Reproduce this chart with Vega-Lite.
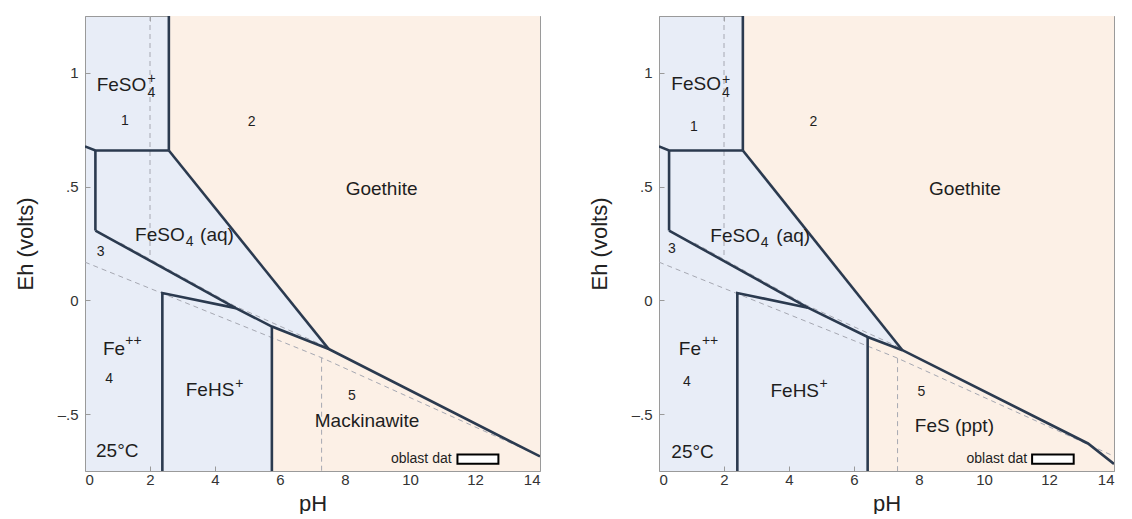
{
  "$schema": "https://vega.github.io/schema/vega-lite/v6.json",
  "padding": {"left": 14, "top": 15, "right": 0, "bottom": 0},
  "background": "white",
  "config": {
    "view": {"fill": "#e8edf7", "stroke": null},
    "font": "Liberation Sans",
    "axis": {"grid": false, "domainColor": "#9a9a9a", "domainWidth": 1, "tickColor": "#9a9a9a", "tickSize": -5, "tickWidth": 1,
      "labelFontSize": 15, "labelColor": "#333333", "labelFont": "Liberation Sans",
      "titleFontSize": 22, "titleFontWeight": "normal", "titleColor": "#222222", "titleFont": "Liberation Sans", "zindex": 1}
  },
  "datasets": {
    "fills": [
      {"panel": "L", "region": "Goethite", "pH": 2.58, "lo": 0.659, "hi": 1.25},
      {"panel": "L", "region": "Goethite", "pH": 7.5, "lo": -0.214, "hi": 1.25},
      {"panel": "L", "region": "Goethite", "pH": 14, "lo": -0.686, "hi": 1.25},
      {"panel": "L", "region": "Mackinawite", "pH": 5.75, "lo": -0.75, "hi": -0.115},
      {"panel": "L", "region": "Mackinawite", "pH": 7.5, "lo": -0.75, "hi": -0.214},
      {"panel": "L", "region": "Mackinawite", "pH": 14, "lo": -0.75, "hi": -0.686},
      {"panel": "R", "region": "Goethite", "pH": 2.58, "lo": 0.659, "hi": 1.25},
      {"panel": "R", "region": "Goethite", "pH": 7.49, "lo": -0.219, "hi": 1.25},
      {"panel": "R", "region": "Goethite", "pH": 13.2, "lo": -0.629, "hi": 1.25},
      {"panel": "R", "region": "Goethite", "pH": 14, "lo": -0.719, "hi": 1.25},
      {"panel": "R", "region": "FeS", "pH": 6.42, "lo": -0.75, "hi": -0.161},
      {"panel": "R", "region": "FeS", "pH": 7.49, "lo": -0.75, "hi": -0.219},
      {"panel": "R", "region": "FeS", "pH": 13.2, "lo": -0.75, "hi": -0.629},
      {"panel": "R", "region": "FeS", "pH": 14, "lo": -0.75, "hi": -0.719}
    ],
    "lines": [
      {"panel": "L", "seg": 1, "o": 1, "pH": 2.58, "Eh": 1.25},
      {"panel": "L", "seg": 1, "o": 2, "pH": 2.58, "Eh": 0.659},
      {"panel": "L", "seg": 2, "o": 1, "pH": 0, "Eh": 0.677},
      {"panel": "L", "seg": 2, "o": 2, "pH": 0.32, "Eh": 0.659},
      {"panel": "L", "seg": 2, "o": 3, "pH": 2.58, "Eh": 0.659},
      {"panel": "L", "seg": 3, "o": 1, "pH": 0.32, "Eh": 0.659},
      {"panel": "L", "seg": 3, "o": 2, "pH": 0.32, "Eh": 0.307},
      {"panel": "L", "seg": 4, "o": 1, "pH": 0.32, "Eh": 0.307},
      {"panel": "L", "seg": 4, "o": 2, "pH": 4.64, "Eh": -0.034},
      {"panel": "L", "seg": 4, "o": 3, "pH": 5.75, "Eh": -0.115},
      {"panel": "L", "seg": 4, "o": 4, "pH": 7.5, "Eh": -0.214},
      {"panel": "L", "seg": 4, "o": 5, "pH": 14, "Eh": -0.686},
      {"panel": "L", "seg": 5, "o": 1, "pH": 2.58, "Eh": 0.659},
      {"panel": "L", "seg": 5, "o": 2, "pH": 7.5, "Eh": -0.214},
      {"panel": "L", "seg": 6, "o": 1, "pH": 2.38, "Eh": -0.75},
      {"panel": "L", "seg": 6, "o": 2, "pH": 2.38, "Eh": 0.032},
      {"panel": "L", "seg": 6, "o": 3, "pH": 4.64, "Eh": -0.034},
      {"panel": "L", "seg": 7, "o": 1, "pH": 5.75, "Eh": -0.115},
      {"panel": "L", "seg": 7, "o": 2, "pH": 5.75, "Eh": -0.75},
      {"panel": "R", "seg": 1, "o": 1, "pH": 2.58, "Eh": 1.25},
      {"panel": "R", "seg": 1, "o": 2, "pH": 2.58, "Eh": 0.659},
      {"panel": "R", "seg": 2, "o": 1, "pH": 0, "Eh": 0.677},
      {"panel": "R", "seg": 2, "o": 2, "pH": 0.31, "Eh": 0.659},
      {"panel": "R", "seg": 2, "o": 3, "pH": 2.58, "Eh": 0.659},
      {"panel": "R", "seg": 3, "o": 1, "pH": 0.31, "Eh": 0.659},
      {"panel": "R", "seg": 3, "o": 2, "pH": 0.31, "Eh": 0.307},
      {"panel": "R", "seg": 4, "o": 1, "pH": 0.31, "Eh": 0.307},
      {"panel": "R", "seg": 4, "o": 2, "pH": 4.58, "Eh": -0.032},
      {"panel": "R", "seg": 4, "o": 3, "pH": 6.42, "Eh": -0.161},
      {"panel": "R", "seg": 4, "o": 4, "pH": 7.49, "Eh": -0.219},
      {"panel": "R", "seg": 4, "o": 5, "pH": 13.2, "Eh": -0.629},
      {"panel": "R", "seg": 4, "o": 6, "pH": 14, "Eh": -0.719},
      {"panel": "R", "seg": 5, "o": 1, "pH": 2.58, "Eh": 0.659},
      {"panel": "R", "seg": 5, "o": 2, "pH": 7.49, "Eh": -0.219},
      {"panel": "R", "seg": 6, "o": 1, "pH": 2.41, "Eh": -0.75},
      {"panel": "R", "seg": 6, "o": 2, "pH": 2.41, "Eh": 0.032},
      {"panel": "R", "seg": 6, "o": 3, "pH": 4.58, "Eh": -0.032},
      {"panel": "R", "seg": 7, "o": 1, "pH": 6.42, "Eh": -0.161},
      {"panel": "R", "seg": 7, "o": 2, "pH": 6.42, "Eh": -0.75}
    ],
    "dashes": [
      {"panel": "L", "seg": 1, "o": 1, "pH": 2.0, "Eh": 1.25},
      {"panel": "L", "seg": 1, "o": 2, "pH": 2.0, "Eh": 0.184},
      {"panel": "L", "seg": 2, "o": 1, "pH": 1.1, "Eh": 0.252},
      {"panel": "L", "seg": 2, "o": 2, "pH": 4.6, "Eh": -0.024},
      {"panel": "L", "seg": 2, "o": 3, "pH": 7.45, "Eh": -0.206},
      {"panel": "L", "seg": 3, "o": 1, "pH": 0, "Eh": 0.168},
      {"panel": "L", "seg": 3, "o": 2, "pH": 7.28, "Eh": -0.252},
      {"panel": "L", "seg": 3, "o": 3, "pH": 14, "Eh": -0.685},
      {"panel": "L", "seg": 4, "o": 1, "pH": 7.28, "Eh": -0.252},
      {"panel": "L", "seg": 4, "o": 2, "pH": 7.28, "Eh": -0.75},
      {"panel": "R", "seg": 1, "o": 1, "pH": 2.0, "Eh": 1.25},
      {"panel": "R", "seg": 1, "o": 2, "pH": 2.0, "Eh": 0.184},
      {"panel": "R", "seg": 2, "o": 1, "pH": 1.1, "Eh": 0.252},
      {"panel": "R", "seg": 2, "o": 2, "pH": 4.55, "Eh": -0.022},
      {"panel": "R", "seg": 2, "o": 3, "pH": 7.45, "Eh": -0.21},
      {"panel": "R", "seg": 3, "o": 1, "pH": 0, "Eh": 0.168},
      {"panel": "R", "seg": 3, "o": 2, "pH": 7.34, "Eh": -0.254},
      {"panel": "R", "seg": 3, "o": 3, "pH": 14, "Eh": -0.685},
      {"panel": "R", "seg": 4, "o": 1, "pH": 7.34, "Eh": -0.254},
      {"panel": "R", "seg": 4, "o": 2, "pH": 7.34, "Eh": -0.75}
    ],
    "boxes": [
      {"panel": "L", "x1": 11.46, "x2": 12.72, "y1": -0.718, "y2": -0.677},
      {"panel": "R", "x1": 11.48, "x2": 12.76, "y1": -0.718, "y2": -0.677}
    ],
    "labels": [
      {"panel": "L", "kind": "big", "pH": 0.36, "Eh": 0.921, "text": "FeSO"},
      {"panel": "L", "kind": "big", "pH": 8.02, "Eh": 0.461, "text": "Goethite"},
      {"panel": "L", "kind": "big", "pH": 1.54, "Eh": 0.259, "text": "FeSO"},
      {"panel": "L", "kind": "big", "pH": 3.54, "Eh": 0.259, "text": "(aq)"},
      {"panel": "L", "kind": "big", "pH": 0.55, "Eh": -0.241, "text": "Fe"},
      {"panel": "L", "kind": "big", "pH": 3.1, "Eh": -0.42, "text": "FeHS"},
      {"panel": "L", "kind": "big", "pH": 0.34, "Eh": -0.687, "text": "25°C"},
      {"panel": "L", "kind": "big", "pH": 7.07, "Eh": -0.556, "text": "Mackinawite"},
      {"panel": "L", "kind": "sub", "pH": 1.92, "Eh": 0.892, "text": "4"},
      {"panel": "L", "kind": "sub", "pH": 1.92, "Eh": 0.955, "text": "+"},
      {"panel": "L", "kind": "sub", "pH": 3.1, "Eh": 0.237, "text": "4"},
      {"panel": "L", "kind": "sub", "pH": 1.24, "Eh": -0.197, "text": "++"},
      {"panel": "L", "kind": "sub", "pH": 4.62, "Eh": -0.383, "text": "+"},
      {"panel": "L", "kind": "num", "pH": 1.23, "Eh": 0.789, "text": "1"},
      {"panel": "L", "kind": "num", "pH": 5.13, "Eh": 0.786, "text": "2"},
      {"panel": "L", "kind": "num", "pH": 0.48, "Eh": 0.212, "text": "3"},
      {"panel": "L", "kind": "num", "pH": 0.74, "Eh": -0.346, "text": "4"},
      {"panel": "L", "kind": "num", "pH": 8.21, "Eh": -0.421, "text": "5"},
      {"panel": "L", "kind": "note", "pH": 11.28, "Eh": -0.716, "text": "oblast dat"},
      {"panel": "R", "kind": "big", "pH": 0.38, "Eh": 0.924, "text": "FeSO"},
      {"panel": "R", "kind": "big", "pH": 8.31, "Eh": 0.461, "text": "Goethite"},
      {"panel": "R", "kind": "big", "pH": 1.58, "Eh": 0.256, "text": "FeSO"},
      {"panel": "R", "kind": "big", "pH": 3.61, "Eh": 0.256, "text": "(aq)"},
      {"panel": "R", "kind": "big", "pH": 0.61, "Eh": -0.241, "text": "Fe"},
      {"panel": "R", "kind": "big", "pH": 3.43, "Eh": -0.424, "text": "FeHS"},
      {"panel": "R", "kind": "big", "pH": 0.38, "Eh": -0.694, "text": "25°C"},
      {"panel": "R", "kind": "big", "pH": 7.87, "Eh": -0.578, "text": "FeS (ppt)"},
      {"panel": "R", "kind": "sub", "pH": 1.94, "Eh": 0.892, "text": "4"},
      {"panel": "R", "kind": "sub", "pH": 1.94, "Eh": 0.952, "text": "+"},
      {"panel": "R", "kind": "sub", "pH": 3.13, "Eh": 0.235, "text": "4"},
      {"panel": "R", "kind": "sub", "pH": 1.32, "Eh": -0.197, "text": "++"},
      {"panel": "R", "kind": "sub", "pH": 4.94, "Eh": -0.386, "text": "+"},
      {"panel": "R", "kind": "num", "pH": 1.07, "Eh": 0.764, "text": "1"},
      {"panel": "R", "kind": "num", "pH": 4.75, "Eh": 0.782, "text": "2"},
      {"panel": "R", "kind": "num", "pH": 0.4, "Eh": 0.227, "text": "3"},
      {"panel": "R", "kind": "num", "pH": 0.86, "Eh": -0.358, "text": "4"},
      {"panel": "R", "kind": "num", "pH": 8.07, "Eh": -0.402, "text": "5"},
      {"panel": "R", "kind": "note", "pH": 11.33, "Eh": -0.716, "text": "oblast dat"}
    ]
  },
  "bounds": "flush",
  "spacing": 119,
  "hconcat": [
    {
      "width": 455, "height": 455,
      "layer": [
        {"data": {"name": "fills"}, "transform": [{"filter": "datum.panel == 'L'"}],
         "mark": {"type": "area", "color": "#fcf0e6", "opacity": 1, "clip": true},
         "encoding": {
           "x": {"field": "pH", "type": "quantitative", "scale": {"domain": [0, 14], "nice": false, "zero": false},
                 "axis": {"orient": "bottom", "values": [0, 2, 4, 6, 8, 10, 12, 14], "title": "pH", "labelPadding": 6, "titlePadding": 6}},
           "y": {"field": "lo", "type": "quantitative", "scale": {"domain": [-0.75, 1.25], "nice": false, "zero": false},
                 "axis": {"orient": "left", "values": [-0.5, 0, 0.5, 1], "labelExpr": "datum.value == 0 ? '0' : datum.value == 1 ? '1' : datum.value > 0 ? '.5' : '–.5'", "title": "Eh (volts)", "labelPadding": 12, "titlePadding": 20}},
           "y2": {"field": "hi"},
           "detail": {"field": "region"}
         }},
        {"data": {"name": "dashes"}, "transform": [{"filter": "datum.panel == 'L'"}],
         "mark": {"type": "line", "color": "#a6a8b2", "strokeWidth": 1, "strokeDash": [5, 4], "clip": true},
         "encoding": {
           "x": {"field": "pH", "type": "quantitative", "scale": {"domain": [0, 14], "nice": false, "zero": false},
                 "axis": {"orient": "top", "values": [0, 2, 4, 6, 8, 10, 12, 14], "labels": false, "title": null}},
           "y": {"field": "Eh", "type": "quantitative", "scale": {"domain": [-0.75, 1.25], "nice": false, "zero": false},
                 "axis": {"orient": "right", "values": [-0.5, 0, 0.5, 1], "labels": false, "title": null}},
           "detail": {"field": "seg"},
           "order": {"field": "o"}
         }},
        {"data": {"name": "lines"}, "transform": [{"filter": "datum.panel == 'L'"}],
         "mark": {"type": "line", "color": "#2b3a4f", "strokeWidth": 2.6, "clip": true, "strokeJoin": "miter"},
         "encoding": {
           "x": {"field": "pH", "type": "quantitative", "scale": {"domain": [0, 14], "nice": false, "zero": false}, "axis": null},
           "y": {"field": "Eh", "type": "quantitative", "scale": {"domain": [-0.75, 1.25], "nice": false, "zero": false}, "axis": null},
           "detail": {"field": "seg"},
           "order": {"field": "o"}
         }},
        {"data": {"name": "boxes"}, "transform": [{"filter": "datum.panel == 'L'"}],
         "mark": {"type": "rect", "fill": "white", "stroke": "black", "strokeWidth": 2},
         "encoding": {
           "x": {"field": "x1", "type": "quantitative", "axis": null}, "x2": {"field": "x2"},
           "y": {"field": "y1", "type": "quantitative", "axis": null}, "y2": {"field": "y2"}
         }},
        {"data": {"name": "labels"}, "transform": [{"filter": "datum.panel == 'L' && datum.kind == 'big'"}],
         "mark": {"type": "text", "align": "left", "baseline": "alphabetic", "fontSize": 19, "font": "Liberation Sans", "color": "#1e1e1e"},
         "encoding": {"x": {"field": "pH", "type": "quantitative", "axis": null}, "y": {"field": "Eh", "type": "quantitative", "axis": null}, "text": {"field": "text"}}},
        {"data": {"name": "labels"}, "transform": [{"filter": "datum.panel == 'L' && datum.kind == 'sub'"}],
         "mark": {"type": "text", "align": "left", "baseline": "alphabetic", "fontSize": 14, "font": "Liberation Sans", "color": "#1e1e1e"},
         "encoding": {"x": {"field": "pH", "type": "quantitative", "axis": null}, "y": {"field": "Eh", "type": "quantitative", "axis": null}, "text": {"field": "text"}}},
        {"data": {"name": "labels"}, "transform": [{"filter": "datum.panel == 'L' && datum.kind == 'num'"}],
         "mark": {"type": "text", "align": "center", "baseline": "middle", "fontSize": 14, "font": "Liberation Sans", "color": "#1e1e1e"},
         "encoding": {"x": {"field": "pH", "type": "quantitative", "axis": null}, "y": {"field": "Eh", "type": "quantitative", "axis": null}, "text": {"field": "text"}}},
        {"data": {"name": "labels"}, "transform": [{"filter": "datum.panel == 'L' && datum.kind == 'note'"}],
         "mark": {"type": "text", "align": "right", "baseline": "alphabetic", "fontSize": 14, "font": "Liberation Sans", "color": "#1e1e1e"},
         "encoding": {"x": {"field": "pH", "type": "quantitative", "axis": null}, "y": {"field": "Eh", "type": "quantitative", "axis": null}, "text": {"field": "text"}}}
      ]
    },
    {
      "width": 455, "height": 455,
      "layer": [
        {"data": {"name": "fills"}, "transform": [{"filter": "datum.panel == 'R'"}],
         "mark": {"type": "area", "color": "#fcf0e6", "opacity": 1, "clip": true},
         "encoding": {
           "x": {"field": "pH", "type": "quantitative", "scale": {"domain": [0, 14], "nice": false, "zero": false},
                 "axis": {"orient": "bottom", "values": [0, 2, 4, 6, 8, 10, 12, 14], "title": "pH", "labelPadding": 6, "titlePadding": 6}},
           "y": {"field": "lo", "type": "quantitative", "scale": {"domain": [-0.75, 1.25], "nice": false, "zero": false},
                 "axis": {"orient": "left", "values": [-0.5, 0, 0.5, 1], "labelExpr": "datum.value == 0 ? '0' : datum.value == 1 ? '1' : datum.value > 0 ? '.5' : '–.5'", "title": "Eh (volts)", "labelPadding": 12, "titlePadding": 20}},
           "y2": {"field": "hi"},
           "detail": {"field": "region"}
         }},
        {"data": {"name": "dashes"}, "transform": [{"filter": "datum.panel == 'R'"}],
         "mark": {"type": "line", "color": "#a6a8b2", "strokeWidth": 1, "strokeDash": [5, 4], "clip": true},
         "encoding": {
           "x": {"field": "pH", "type": "quantitative", "scale": {"domain": [0, 14], "nice": false, "zero": false},
                 "axis": {"orient": "top", "values": [0, 2, 4, 6, 8, 10, 12, 14], "labels": false, "title": null}},
           "y": {"field": "Eh", "type": "quantitative", "scale": {"domain": [-0.75, 1.25], "nice": false, "zero": false},
                 "axis": {"orient": "right", "values": [-0.5, 0, 0.5, 1], "labels": false, "title": null}},
           "detail": {"field": "seg"},
           "order": {"field": "o"}
         }},
        {"data": {"name": "lines"}, "transform": [{"filter": "datum.panel == 'R'"}],
         "mark": {"type": "line", "color": "#2b3a4f", "strokeWidth": 2.6, "clip": true, "strokeJoin": "miter"},
         "encoding": {
           "x": {"field": "pH", "type": "quantitative", "scale": {"domain": [0, 14], "nice": false, "zero": false}, "axis": null},
           "y": {"field": "Eh", "type": "quantitative", "scale": {"domain": [-0.75, 1.25], "nice": false, "zero": false}, "axis": null},
           "detail": {"field": "seg"},
           "order": {"field": "o"}
         }},
        {"data": {"name": "boxes"}, "transform": [{"filter": "datum.panel == 'R'"}],
         "mark": {"type": "rect", "fill": "white", "stroke": "black", "strokeWidth": 2},
         "encoding": {
           "x": {"field": "x1", "type": "quantitative", "axis": null}, "x2": {"field": "x2"},
           "y": {"field": "y1", "type": "quantitative", "axis": null}, "y2": {"field": "y2"}
         }},
        {"data": {"name": "labels"}, "transform": [{"filter": "datum.panel == 'R' && datum.kind == 'big'"}],
         "mark": {"type": "text", "align": "left", "baseline": "alphabetic", "fontSize": 19, "font": "Liberation Sans", "color": "#1e1e1e"},
         "encoding": {"x": {"field": "pH", "type": "quantitative", "axis": null}, "y": {"field": "Eh", "type": "quantitative", "axis": null}, "text": {"field": "text"}}},
        {"data": {"name": "labels"}, "transform": [{"filter": "datum.panel == 'R' && datum.kind == 'sub'"}],
         "mark": {"type": "text", "align": "left", "baseline": "alphabetic", "fontSize": 14, "font": "Liberation Sans", "color": "#1e1e1e"},
         "encoding": {"x": {"field": "pH", "type": "quantitative", "axis": null}, "y": {"field": "Eh", "type": "quantitative", "axis": null}, "text": {"field": "text"}}},
        {"data": {"name": "labels"}, "transform": [{"filter": "datum.panel == 'R' && datum.kind == 'num'"}],
         "mark": {"type": "text", "align": "center", "baseline": "middle", "fontSize": 14, "font": "Liberation Sans", "color": "#1e1e1e"},
         "encoding": {"x": {"field": "pH", "type": "quantitative", "axis": null}, "y": {"field": "Eh", "type": "quantitative", "axis": null}, "text": {"field": "text"}}},
        {"data": {"name": "labels"}, "transform": [{"filter": "datum.panel == 'R' && datum.kind == 'note'"}],
         "mark": {"type": "text", "align": "right", "baseline": "alphabetic", "fontSize": 14, "font": "Liberation Sans", "color": "#1e1e1e"},
         "encoding": {"x": {"field": "pH", "type": "quantitative", "axis": null}, "y": {"field": "Eh", "type": "quantitative", "axis": null}, "text": {"field": "text"}}}
      ]
    }
  ]
}
